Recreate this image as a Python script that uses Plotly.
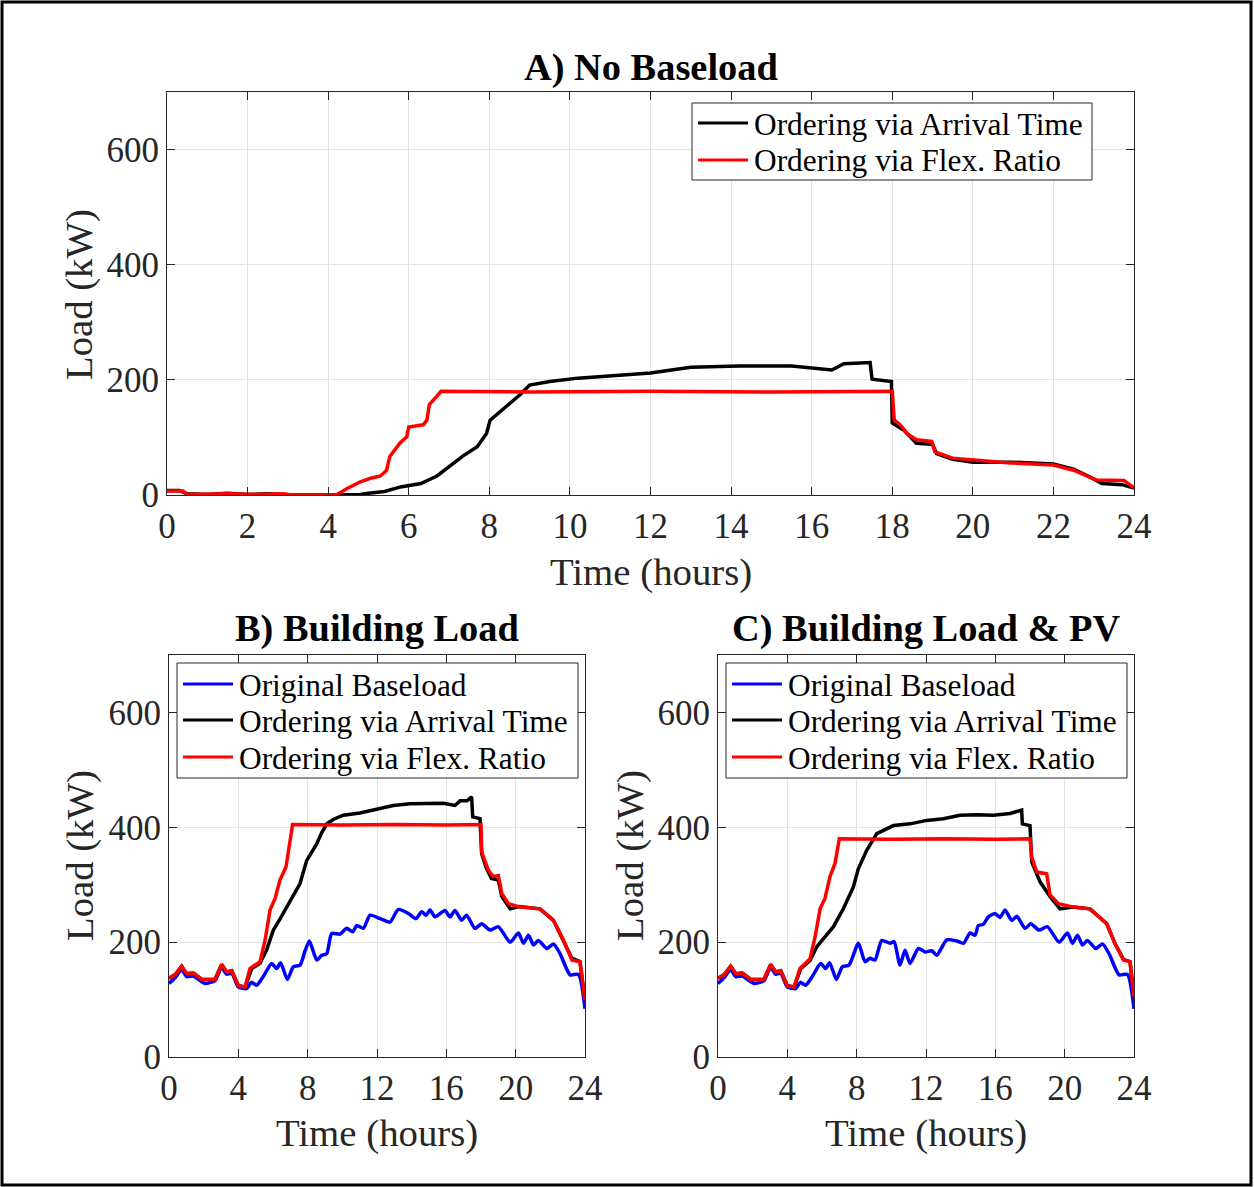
import plotly.graph_objects as go

W, H = 1254, 1187
FONT = "Liberation Serif, Times New Roman, serif"

# ---------------- Panel A: No Baseload ----------------
a_arr_t = [0, 0.3, 0.5, 1.0, 1.5, 2.0, 2.5, 3.0, 4.0, 4.8, 5.0, 5.4, 5.8, 6.3, 6.7, 7.0, 7.35, 7.7,
           7.93, 8.02, 8.27, 8.5, 8.76, 9.0, 9.5, 10.2, 11.0, 12.0, 13.0, 14.2, 15.5, 16.5, 16.8,
           17.45, 17.5, 17.98, 18.0, 18.3, 18.6, 19.0, 19.1, 19.5, 20.0, 21.0, 22.0, 22.5, 23.0,
           23.2, 23.7, 24.0]
a_arr_v = [8, 8, 2, 1, 3, 1, 2, 0, 0, 1, 3, 6, 14, 20, 33, 50, 68, 84,
           107, 130, 145, 159, 174, 191, 197, 203, 207, 212, 222, 224, 224, 217, 228,
           230, 201, 197, 125, 112, 90, 88, 72, 62, 57, 57, 54, 45, 28,
           20, 18, 12]
a_flex_t = [0, 0.4, 0.5, 1.5, 2.2, 2.9, 3.1, 4.2, 4.46, 4.8, 5.05, 5.3, 5.45, 5.53, 5.78, 5.95,
            6.0, 6.36, 6.45, 6.51, 6.69, 6.8, 9.0, 12.0, 15.0, 18.0, 18.05, 18.2, 18.36, 18.6,
            18.98, 19.06, 19.5, 20.0, 20.85, 22.0, 22.5, 23.07, 23.75, 24.0]
a_flex_v = [7, 7, 1, 2, 1, 2, 0, 0, 11, 23, 29, 33, 43, 67, 90, 101,
            118, 122, 130, 157, 171, 180, 179, 180, 179, 180, 130, 122, 107, 96,
            93, 75, 64, 61, 56, 52, 43, 26, 25, 13]

# ---------------- Panel B: Building Load ----------------
b_base_t = [0, 0.35, 0.73, 1.02, 1.4, 1.89, 2.08, 2.65, 3.04, 3.33, 3.62, 4.0, 4.48, 4.75, 5.06,
            5.44, 5.92, 6.21, 6.44, 6.83, 7.17, 7.56, 7.85, 8.1, 8.52, 8.81, 9.1, 9.39, 9.87,
            10.25, 10.6, 10.83, 11.21, 11.6, 12.18, 12.75, 13.23, 13.81, 14.25, 14.58, 14.83,
            15.06, 15.35, 15.92, 16.21, 16.5, 16.88, 17.17, 17.65, 18.04, 18.52, 19.0, 19.68,
            20.16, 20.45, 20.74, 21.03, 21.31, 21.8, 22.18, 22.56, 23.14, 23.62, 24.0]
b_base_v = [128, 138, 152, 140, 141, 131, 128, 133, 156, 144, 146, 122, 119, 130, 125,
            140, 163, 154, 164, 135, 157, 160, 185, 202, 169, 177, 180, 215, 214,
            224, 218, 229, 224, 247, 241, 235, 257, 250, 241, 253, 247,
            256, 244, 255, 244, 255, 238, 247, 224, 232, 221, 227, 200,
            216, 198, 212, 195, 203, 189, 197, 180, 143, 144, 84]
b_arr_t = [0, 0.35, 0.73, 1.02, 1.4, 1.89, 2.65, 3.04, 3.33, 3.62, 4.0, 4.39, 4.77, 5.25, 5.63,
           6.02, 6.4, 6.79, 7.2, 7.56, 7.94, 8.2, 8.52, 8.8, 9.1, 9.5, 10.06, 11.02, 11.98,
           12.94, 13.9, 14.87, 15.83, 16.5, 16.79, 17.2, 17.46, 17.52, 17.94, 18.04, 18.3,
           18.6, 19.0, 19.2, 19.68, 20.2, 21.4, 22.18, 22.75, 23.24, 23.71, 24.0]
b_arr_v = [137, 143, 158, 145, 146, 135, 135, 161, 148, 150, 124, 122, 154, 163, 186,
           221, 240, 261, 280, 302, 342, 355, 371, 390, 406, 414, 421, 425, 432,
           438, 441, 441, 442, 438, 446, 446, 453, 418, 415, 354, 330,
           311, 308, 280, 258, 262, 258, 238, 204, 172, 166, 99]
b_flex_t = [0, 0.35, 0.73, 1.02, 1.4, 1.89, 2.65, 3.04, 3.33, 3.62, 4.0, 4.39, 4.67, 5.25, 5.54,
            5.83, 6.12, 6.4, 6.75, 6.98, 7.13, 10.0, 13.0, 16.0, 18.0, 18.04, 18.43, 18.71,
            19.0, 19.2, 19.58, 20.26, 21.4, 22.18, 22.75, 23.24, 23.71, 24.0]
b_flex_v = [137, 143, 158, 145, 146, 135, 135, 161, 148, 150, 124, 122, 154, 166, 203,
            256, 276, 308, 331, 375, 405, 404, 405, 404, 405, 357, 325, 314,
            316, 285, 267, 261, 258, 238, 204, 169, 166, 99]

# ---------------- Panel C: Building Load & PV ----------------
c_base_t = [0, 0.35, 0.73, 1.02, 1.4, 1.89, 2.08, 2.65, 3.04, 3.33, 3.62, 4.0, 4.48, 4.75, 5.06,
            5.44, 5.92, 6.21, 6.44, 6.83, 7.17, 7.56, 8.1, 8.48, 8.77, 9.06, 9.45, 9.93, 10.16,
            10.5, 10.79, 11.08, 11.56, 11.95, 12.33, 12.62, 13.2, 13.77, 14.16, 14.54, 14.83,
            15.02, 15.31, 15.6, 15.98, 16.27, 16.56, 16.95, 17.24, 17.72, 18.04, 18.52, 19.0,
            19.68, 20.16, 20.45, 20.74, 21.03, 21.31, 21.8, 22.18, 22.56, 23.14, 23.62, 24.0]
c_base_v = [128, 138, 152, 140, 141, 131, 128, 133, 156, 144, 146, 122, 119, 130, 125,
            140, 163, 154, 164, 135, 157, 160, 198, 166, 172, 169, 203, 198, 201,
            160, 186, 163, 189, 183, 185, 177, 204, 202, 198, 216, 212,
            229, 231, 244, 250, 243, 256, 238, 245, 224, 232, 221, 227,
            200, 216, 198, 212, 195, 203, 189, 197, 180, 143, 144, 84]
c_arr_t = [0, 0.35, 0.73, 1.02, 1.4, 1.89, 2.65, 3.04, 3.33, 3.62, 4.0, 4.39, 4.77, 5.31, 5.7,
           6.08, 6.66, 7.23, 7.81, 8.1, 8.58, 9.16, 10.12, 11.08, 12.04, 13.0, 13.96, 14.92,
           15.88, 16.85, 17.52, 17.56, 18.0, 18.1, 18.58, 19.16, 19.73, 20.5, 21.46, 22.43,
           22.91, 23.39, 23.77, 24.0]
c_arr_v = [137, 143, 158, 145, 146, 135, 135, 161, 148, 150, 124, 122, 154, 168, 192,
           206, 227, 258, 296, 328, 360, 389, 403, 406, 412, 415, 421, 422,
           421, 424, 430, 406, 403, 340, 305, 279, 258, 261, 258, 232,
           197, 170, 166, 105]
c_flex_t = [0, 0.35, 0.73, 1.02, 1.4, 1.89, 2.65, 3.04, 3.33, 3.62, 4.0, 4.39, 4.73, 5.31, 5.6,
            5.89, 6.17, 6.46, 6.75, 7.0, 10.0, 13.0, 16.0, 18.0, 18.1, 18.39, 18.96, 19.16,
            19.64, 20.5, 21.46, 22.43, 22.91, 23.39, 23.77, 24.0]
c_flex_v = [137, 143, 158, 145, 146, 135, 135, 161, 148, 150, 124, 122, 154, 171, 209,
            258, 276, 314, 337, 380, 379, 380, 379, 380, 348, 322, 319, 282,
            267, 261, 258, 232, 197, 169, 166, 105]

x_ticks_a = [0, 2, 4, 6, 8, 10, 12, 14, 16, 18, 20, 22, 24]
x_ticks_bc = [0, 4, 8, 12, 16, 20, 24]
y_ticks = [0, 200, 400, 600]

LBL_BASE = "Original Baseload"
LBL_ARR = "Ordering via Arrival Time"
LBL_FLEX = "Ordering via Flex. Ratio"
TITLES = ["A) No Baseload", "B) Building Load", "C) Building Load & PV"]
XTITLE = "Time (hours)"
YTITLE = "Load (kW)"

BLUE, BLACK, RED = "#0000ff", "#000000", "#ff0000"
LW = 3.5

fig = go.Figure()


def add(t, v, color, name, xa, ya, shape="linear"):
    fig.add_trace(go.Scatter(x=t, y=v, mode="lines", name=name, xaxis=xa, yaxis=ya,
                             showlegend=False,
                             line=dict(color=color, width=LW, shape=shape,
                                       smoothing=0.6 if shape == "spline" else None)))


add(a_arr_t, a_arr_v, BLACK, LBL_ARR, "x", "y")
add(a_flex_t, a_flex_v, RED, LBL_FLEX, "x", "y")
add(b_base_t, b_base_v, BLUE, LBL_BASE, "x2", "y2", "spline")
add(b_arr_t, b_arr_v, BLACK, LBL_ARR, "x2", "y2")
add(b_flex_t, b_flex_v, RED, LBL_FLEX, "x2", "y2")
add(c_base_t, c_base_v, BLUE, LBL_BASE, "x3", "y3", "spline")
add(c_arr_t, c_arr_v, BLACK, LBL_ARR, "x3", "y3")
add(c_flex_t, c_flex_v, RED, LBL_FLEX, "x3", "y3")


def px(x):
    return x / W


def py(y):
    return 1 - y / H


axis_common = dict(showline=True, linecolor="#262626", linewidth=1, mirror="ticks",
                   ticks="inside", ticklen=8, tickcolor="#262626", showgrid=True,
                   gridcolor="#e3e3e3", gridwidth=1, zeroline=False, automargin=False,
                   tickfont=dict(family=FONT, size=35, color="#262626"))

panels = [  # (left, right, top, bottom) in pixels
    (167, 1134, 92, 495),
    (169, 585, 655, 1057),
    (718, 1134, 655, 1057),
]
xt = [x_ticks_a, x_ticks_bc, x_ticks_bc]
for i, (l, r, t, b) in enumerate(panels):
    sfx = "" if i == 0 else str(i + 1)
    fig.layout["xaxis" + sfx] = dict(axis_common, domain=[px(l), px(r)], range=[0, 24],
                                      tickvals=xt[i], anchor="y" + sfx)
    fig.layout["yaxis" + sfx] = dict(axis_common, domain=[py(b), py(t)], range=[0, 700],
                                      tickvals=y_ticks, anchor="x" + sfx)

annotations = []
shapes = [dict(type="rect", xref="paper", yref="paper", x0=px(2), x1=px(1251),
               y0=py(1185), y1=py(2), line=dict(color="black", width=3))]

title_pos = [(651, 67), (377, 628), (926, 628)]
for (x, y), txt in zip(title_pos, TITLES):
    annotations.append(dict(text="<b>" + txt + "</b>", x=px(x), y=py(y), xref="paper",
                            yref="paper", xanchor="center", yanchor="middle", showarrow=False,
                            font=dict(family=FONT, size=38.4, color="black")))
for x, y in [(651, 572), (377, 1133), (926, 1133)]:
    annotations.append(dict(text=XTITLE, x=px(x), y=py(y), xref="paper", yref="paper",
                            xanchor="center", yanchor="middle", showarrow=False,
                            font=dict(family=FONT, size=38.8, color="#262626")))
for x, y in [(80, 295), (80, 856), (630, 856)]:
    annotations.append(dict(text=YTITLE, x=px(x), y=py(y), xref="paper", yref="paper",
                            xanchor="center", yanchor="middle", showarrow=False, textangle=-90,
                            font=dict(family=FONT, size=38.7, color="#262626")))

# legends (box, sample line, label), positioned in pixels
legends = [
    (692, 1092, 103, 180, [(BLACK, LBL_ARR), (RED, LBL_FLEX)], [123, 160]),
    (177, 578, 663, 778, [(BLUE, LBL_BASE), (BLACK, LBL_ARR), (RED, LBL_FLEX)], [684, 720, 757]),
    (726, 1127, 663, 778, [(BLUE, LBL_BASE), (BLACK, LBL_ARR), (RED, LBL_FLEX)], [684, 720, 757]),
]
for l, r, t, b, items, rows in legends:
    shapes.append(dict(type="rect", xref="paper", yref="paper", x0=px(l), x1=px(r),
                       y0=py(b), y1=py(t), fillcolor="white", layer="above",
                       line=dict(color="#262626", width=1)))
    for (col, lbl), yy in zip(items, rows):
        shapes.append(dict(type="line", xref="paper", yref="paper", x0=px(l + 6), x1=px(l + 56),
                           y0=py(yy), y1=py(yy), layer="above", line=dict(color=col, width=3)))
        annotations.append(dict(text=lbl, x=px(l + 60), y=py(yy + 1), xref="paper", yref="paper",
                                xanchor="left", yanchor="middle", showarrow=False,
                                font=dict(family=FONT, size=31.4, color="black")))

fig.update_layout(
    width=W, height=H,
    margin=dict(l=0, r=0, t=0, b=0, pad=0, autoexpand=False),
    paper_bgcolor="white", plot_bgcolor="white",
    showlegend=False,
    annotations=annotations,
    shapes=shapes,
)

fig.write_html("out.html",
               config={"displayModeBar": False},
               post_script="document.body.style.margin='0';document.body.style.padding='0';"
                           "document.body.style.overflow='hidden';")
